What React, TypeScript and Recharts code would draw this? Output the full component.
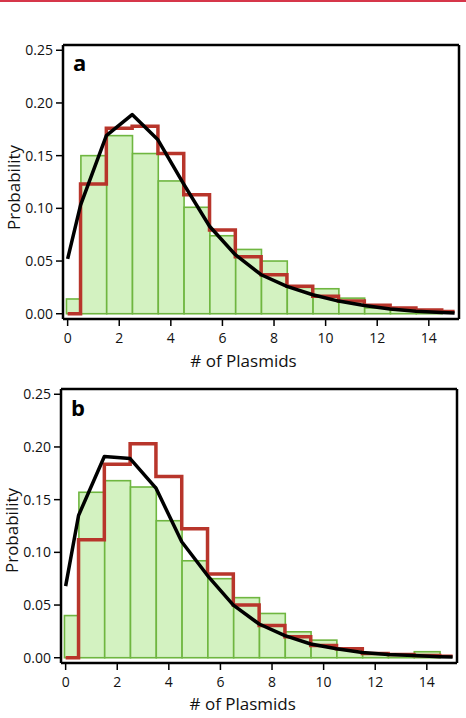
import React from 'react';
import { ComposedChart, Bar, Line, XAxis, YAxis, Label, ReferenceLine } from 'recharts';

// ---------- data ----------
const binCenters = [0, 1, 2, 3, 4, 5, 6, 7, 8, 9, 10, 11, 12, 13, 14];
const curveX = [0, 0.5, 1.5, 2.5, 3.5, 4.5, 5.5, 6.5, 7.5, 8.5, 9.5, 10.5, 11.5, 12.5, 13.5, 14.5, 15];
const xTicks = [0, 2, 4, 6, 8, 10, 12, 14];
const yTicks = [0, 0.05, 0.1, 0.15, 0.2, 0.25];

// panel a
const greenA = [0.014, 0.15, 0.169, 0.152, 0.126, 0.101, 0.074, 0.061, 0.05, 0.025, 0.0237, 0.0148, 0.0055, 0.0037, 0.0025];
const redA = [0, 0.123, 0.176, 0.178, 0.152, 0.113, 0.0795, 0.054, 0.037, 0.026, 0.0165, 0.012, 0.008, 0.0055, 0.0035, 0.002, 0.002];
const blackA = [0.052, 0.103, 0.169, 0.189, 0.165, 0.123, 0.083, 0.056, 0.037, 0.026, 0.018, 0.012, 0.0078, 0.0045, 0.0023, 0.0012, 0.0007];

// panel b
const greenB = [0.04, 0.157, 0.168, 0.162, 0.13, 0.092, 0.075, 0.057, 0.042, 0.0246, 0.0167, 0.008, 0.004, 0.003, 0.0057];
const redB = [0, 0.112, 0.1837, 0.203, 0.172, 0.1225, 0.0795, 0.05, 0.0306, 0.02, 0.0117, 0.0085, 0.004, 0.003, 0.002, 0.0015, 0.0015];
const blackB = [0.068, 0.135, 0.191, 0.189, 0.161, 0.11, 0.078, 0.05, 0.032, 0.021, 0.013, 0.0085, 0.005, 0.003, 0.002, 0.001, 0.0006];

// ---------- style ----------
const FONT = '"Open Sans", "Noto Sans", sans-serif';
const X_DOMAIN: [number, number] = [-0.18, 15.17];
const Y_DOMAIN: [number, number] = [-0.005, 0.255];
const GREEN_FILL = '#d3f2c1';
const GREEN_STROKE = '#6fb640';
const RED = '#b8352b';
const W = 466;
const H = 370;

const makeBarShape = (unit: number) => (props: any) => {
  const { x, y, width, height, payload } = props;
  const cx = x + width / 2;
  const c = payload.x;
  const lo = c === 0 ? -0.06 : c - 0.5;
  const hi = c + 0.5;
  const left = cx + (lo - c) * unit;
  const right = cx + (hi - c) * unit;
  return (
    <rect x={left} y={y} width={right - left} height={Math.max(0, height)} fill={GREEN_FILL} stroke={GREEN_STROKE} strokeWidth={1.6} />
  );
};

type PanelProps = {
  top: number;
  yAxisWidth: number;
  rightMargin: number;
  green: number[];
  red: number[];
  black: number[];
  xLabelDx: number;
  xLabelBaseline: number;
  yLabelX: number;
  yLabelDy: number;
};

function Panel(p: PanelProps) {
  const plotW = W - p.yAxisWidth - p.rightMargin;
  const unit = plotW / (X_DOMAIN[1] - X_DOMAIN[0]);
  const barData = binCenters.map((x, i) => ({ x, p: p.green[i] }));
  const redData = curveX.map((x, i) => ({ x, p: p.red[i] }));
  const blackData = curveX.map((x, i) => ({ x, p: p.black[i] }));
  const tickStyle = { fill: '#111', fontSize: 14, fontFamily: FONT };
  return (
    <div style={{ position: 'absolute', left: 0, top: p.top, width: W, height: H }}>
      <ComposedChart width={W} height={H} data={barData} margin={{ top: 45, right: p.rightMargin, left: 0, bottom: 0 }}>
        <XAxis
          dataKey="x"
          type="number"
          domain={X_DOMAIN}
          allowDataOverflow
          ticks={xTicks}
          interval={0}
          height={51}
          tickSize={7}
          tickMargin={7}
          tick={tickStyle}
          axisLine={{ stroke: '#000', strokeWidth: 2.5 }}
          tickLine={{ stroke: '#000', strokeWidth: 1.5 }}
        >
          <Label
            content={(lp: any) => {
              const vb = lp.viewBox || { x: p.yAxisWidth, y: 319, width: plotW, height: 51 };
              return (
                <text x={vb.x + vb.width / 2 + p.xLabelDx} y={p.xLabelBaseline} textAnchor="middle" fontSize={17} fontFamily={FONT} fill="#111">
                  # of Plasmids
                </text>
              );
            }}
          />
        </XAxis>
        <YAxis
          type="number"
          domain={Y_DOMAIN}
          allowDataOverflow
          ticks={yTicks}
          interval={0}
          width={p.yAxisWidth}
          tickSize={7}
          tickMargin={3}
          tick={tickStyle}
          tickFormatter={(v: number) => v.toFixed(2)}
          axisLine={{ stroke: '#000', strokeWidth: 2.5 }}
          tickLine={{ stroke: '#000', strokeWidth: 1.5 }}
        >
          <Label
            content={(lp: any) => {
              const vb = lp.viewBox || { x: 0, y: 45, width: p.yAxisWidth, height: 274 };
              const cy = vb.y + vb.height / 2 + p.yLabelDy;
              return (
                <text x={p.yLabelX} y={cy} transform={`rotate(-90 ${p.yLabelX} ${cy})`} textAnchor="middle" fontSize={17} fontFamily={FONT} fill="#111">
                  Probability
                </text>
              );
            }}
          />
        </YAxis>
        <Bar dataKey="p" barSize={Math.floor(unit) - 2} shape={makeBarShape(unit)} isAnimationActive={false} />
        <Line data={redData} dataKey="p" type="stepAfter" stroke={RED} strokeWidth={3.5} dot={false} activeDot={false} isAnimationActive={false} />
        <Line data={blackData} dataKey="p" type="linear" stroke="#000" strokeWidth={3.5} strokeLinejoin="round" dot={false} activeDot={false} isAnimationActive={false} />
        <ReferenceLine y={Y_DOMAIN[1]} stroke="#000" strokeWidth={2.5} ifOverflow="visible" />
        <ReferenceLine x={X_DOMAIN[1]} stroke="#000" strokeWidth={2.5} ifOverflow="visible" />
      </ComposedChart>
    </div>
  );
}

export default function App() {
  return (
    <div style={{ position: 'absolute', left: 0, top: 0, width: W, height: 718, background: '#fff', overflow: 'hidden' }}>
      <div style={{ position: 'absolute', left: 0, top: 0, width: W, height: 2, background: '#d6364a' }} />
      <Panel top={0} yAxisWidth={63} rightMargin={7} green={greenA} red={redA} black={blackA} xLabelDx={-17.5} xLabelBaseline={366.5} yLabelX={19.5} yLabelDy={5.5} />
      <Panel top={344} yAxisWidth={61} rightMargin={9} green={greenB} red={redB} black={blackB} xLabelDx={-16.3} xLabelBaseline={366} yLabelX={18} yLabelDy={4.5} />
      <svg width={W} height={718} style={{ position: 'absolute', left: 0, top: 0, pointerEvents: 'none' }}>
        <text x={73} y={70.5} fontSize={22} fontWeight={700} fontFamily={FONT} fill="#000">a</text>
        <text x={71} y={416} fontSize={22} fontWeight={700} fontFamily={FONT} fill="#000">b</text>
      </svg>
    </div>
  );
}
